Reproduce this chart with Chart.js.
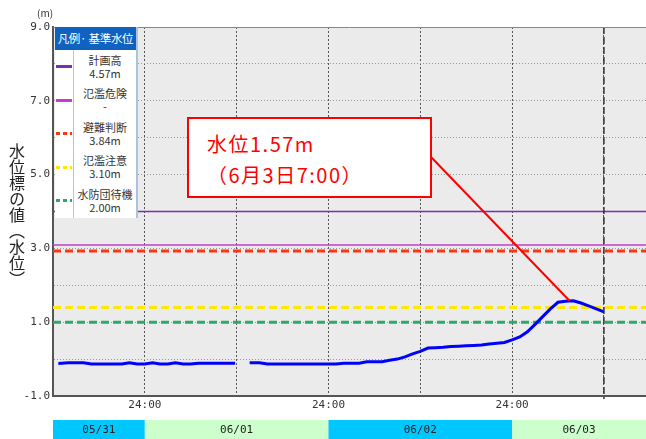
<!DOCTYPE html>
<html lang="ja">
<head>
<meta charset="utf-8">
<script src="https://cdn.jsdelivr.net/npm/chart.js@4.4.1/dist/chart.umd.min.js"></script>
<style>
  html, body { margin: 0; padding: 0; background: #fff; }
  #wrap { position: relative; width: 646px; height: 439px; overflow: hidden;
          font-family: "Noto Sans CJK JP", "Noto Sans", sans-serif; }
  #chart { position: absolute; left: 0; top: 0; }
  #unit { position: absolute; left: 37px; top: 5px; font-size: 10px; color: #333; }
  #ytitle { position: absolute; left: 8px; top: 143px; writing-mode: vertical-rl;
            font-size: 16px; line-height: 18px; color: #222; }
  #legend { position: absolute; left: 55px; top: 27px; width: 81px; background: #fff;
            border-right: 2px solid #a9c4dc; }
  #legend .head { height: 23px; line-height: 23px; background: #0f62c0; color: #fff;
                  font-size: 11.5px; text-align: center; white-space: nowrap; letter-spacing: -0.3px; }
  #legend .row { display: flex; height: 33.5px; }
  #legend .sw { position: relative; width: 18px; border-right: 1px solid #c4c4c4; }
  #legend .sw i { position: absolute; left: 1px; right: 1px; top: 15px; height: 3px; }
  #legend .tx { flex: 1; display: flex; flex-direction: column; justify-content: center;
                text-align: center; font-size: 11px; line-height: 13px; color: #333; }
  #note { position: absolute; left: 187px; top: 117px; width: 245px; height: 81px;
          border: 2px solid #ff0000; background: #fff; color: #ff0000; box-sizing: border-box;
          font-size: 20px; letter-spacing: 1.5px; line-height: 31px; padding: 9px 0 0 18px; }
</style>
</head>
<body>
<div id="wrap">
  <canvas id="chart" width="646" height="439"></canvas>
  <div id="unit">(m)</div>
  <div id="ytitle">水位標の値（水位）</div>
  <div id="legend"></div>
  <div id="note"></div>
</div>
<script>
/* =========================================
   DATA (hours counted from 05/31 12:00)
========================================= */
const hours = [0.7, 2, 3, 4, 5, 6, 7, 8, 9, 10, 11, 12, 13, 14, 15, 16, 17, 18, 19, 20,
  21, 22, 23, 23.8, 24.5, 25.7, 26, 27, 28, 29, 30, 31, 32, 33, 34, 35, 36, 37, 38, 39,
  40, 41, 42, 43, 44, 45, 46, 47, 48, 49, 50, 51, 52, 53, 54, 55, 56, 57, 58, 59,
  60, 61, 62, 63, 64, 65, 66, 67, 68, 69, 70, 71, 72];
const levels = [-0.12, -0.10, -0.10, -0.10, -0.13, -0.13, -0.13, -0.13, -0.13, -0.10,
  -0.13, -0.13, -0.10, -0.13, -0.13, -0.10, -0.13, -0.13, -0.11, -0.11,
  -0.11, -0.11, -0.11, -0.11, null, -0.10, -0.10, -0.10, -0.13, -0.13, -0.13, -0.13,
  -0.13, -0.13, -0.13, -0.13, -0.13, -0.13, -0.11, -0.11,
  -0.11, -0.07, -0.07, -0.07, -0.03, 0.00, 0.06, 0.14, 0.21, 0.30, 0.31, 0.32, 0.34,
  0.35, 0.36, 0.37, 0.38, 0.41, 0.43, 0.45,
  0.52, 0.60, 0.74, 0.94, 1.15, 1.36, 1.54, 1.57, 1.58, 1.52, 1.44, 1.36, 1.28];

// reference water levels: name, displayed value, position on the gauge axis
const thresholdNames = ["計画高", "氾濫危険", "避難判断", "氾濫注意", "水防団待機"];
const thresholdTexts = ["4.57m", "-", "3.84m", "3.10m", "2.00m"];
const thresholdLevels = [4.0, 3.09, 2.93, 1.40, 1.00];

const gridHours = [12, 24, 36, 48, 60, 72];
const midnightHours = [12, 36, 60];
const dayLabels = ["05/31", "06/01", "06/02", "06/03"];
const dayStartHours = [0, 12, 36, 60];
const dayEndHours = [12, 36, 60, 84];
const nowHour = 72;
const peakHour = 67.5;
const peakLevel = 1.58;
const noteLines = ["水位1.57m", "（6月3日7:00）"];

const X_MIN = 0, X_MAX = 77.5;

/* =========================================
   STYLES
========================================= */
const thresholdStyles = [
  { color: "#7a2fae", width: 1.5, dash: [] },
  { color: "#c040c8", width: 1.5, dash: [] },
  { color: "#ff3311", width: 3, dash: [8, 4] },
  { color: "#ffe800", width: 3, dash: [8, 4] },
  { color: "#2fa86a", width: 3, dash: [8, 4] }
];
const dayColors = ["#00c8ff", "#ccffcc", "#00c8ff", "#ccffcc"];

/* =========================================
   HTML LEGEND + NOTE
========================================= */
let html = '<div class="head">凡例· 基準水位</div>';
thresholdNames.forEach((name, i) => {
  const st = thresholdStyles[i];
  const bg = st.dash.length
    ? `repeating-linear-gradient(90deg, ${st.color} 0 4px, transparent 4px 7px)`
    : st.color;
  html += `<div class="row"><div class="sw"><i style="background:${bg}"></i></div>
    <div class="tx"><span>${name}</span><span>${thresholdTexts[i]}</span></div></div>`;
});
document.getElementById("legend").innerHTML = html;
document.getElementById("note").innerHTML = noteLines.join("<br>");

/* =========================================
   PLUGINS
========================================= */
const plotBg = {
  id: "plotBg",
  beforeDraw(chart) {
    const { ctx, chartArea: a } = chart;
    ctx.save();
    ctx.fillStyle = "#ebebeb";
    ctx.fillRect(a.left, a.top, a.right - a.left, a.bottom - a.top);
    ctx.restore();
  }
};

const overlay = {
  id: "overlay",
  afterDatasetsDraw(chart) {
    const { ctx, chartArea: a, scales: { x, y } } = chart;
    // current time line
    const nx = x.getPixelForValue(nowHour);
    ctx.save();
    ctx.strokeStyle = "#333";
    ctx.lineWidth = 1.5;
    ctx.setLineDash([7, 3]);
    ctx.beginPath();
    ctx.moveTo(nx, a.top);
    ctx.lineTo(nx, a.bottom + 3);
    ctx.stroke();
    // note connector
    ctx.setLineDash([]);
    ctx.strokeStyle = "#ff0000";
    ctx.lineWidth = 2;
    ctx.beginPath();
    ctx.moveTo(431, 157);
    ctx.lineTo(x.getPixelForValue(peakHour), y.getPixelForValue(peakLevel));
    ctx.stroke();
    // top edge
    ctx.strokeStyle = "#888";
    ctx.lineWidth = 1;
    ctx.beginPath();
    ctx.moveTo(a.left, a.top + 0.5);
    ctx.lineTo(a.right, a.top + 0.5);
    ctx.stroke();
    ctx.restore();
  },
  afterDraw(chart) {
    const { ctx, chartArea: a, scales: { x } } = chart;
    ctx.save();
    ctx.font = "11px 'DejaVu Sans Mono'";
    ctx.textAlign = "center";
    ctx.textBaseline = "middle";
    dayLabels.forEach((label, i) => {
      const l = Math.max(a.left, x.getPixelForValue(dayStartHours[i]));
      const r = Math.min(a.right, x.getPixelForValue(dayEndHours[i]));
      ctx.fillStyle = dayColors[i];
      ctx.fillRect(l, 420, r - l, 19);
      ctx.fillStyle = "#222";
      ctx.fillText(label, (l + r) / 2, 430);
    });
    ctx.restore();
  }
};

/* =========================================
   CHART
========================================= */
const datasets = [{
  data: hours.map((h, i) => ({ x: h, y: levels[i] })),
  borderColor: "#0000ff",
  borderWidth: 3,
  pointRadius: 0,
  spanGaps: false
}];
thresholdLevels.forEach((lv, i) => {
  const st = thresholdStyles[i];
  datasets.push({
    data: [{ x: X_MIN, y: lv }, { x: X_MAX, y: lv }],
    borderColor: st.color,
    borderWidth: st.width,
    borderDash: st.dash,
    pointRadius: 0
  });
});

new Chart(document.getElementById("chart"), {
  type: "line",
  data: { datasets },
  options: {
    responsive: false,
    animation: false,
    layout: { padding: { top: 27, left: 0, right: 0, bottom: 0 } },
    plugins: { legend: { display: false }, tooltip: { enabled: false } },
    scales: {
      x: {
        type: "linear",
        min: X_MIN,
        max: X_MAX,
        afterBuildTicks: s => { s.ticks = gridHours.map(v => ({ value: v })); },
        afterFit: s => { s.height = 43; },
        ticks: {
          autoSkip: false,
          maxRotation: 0,
          padding: 3,
          color: "#333",
          font: { family: "DejaVu Sans Mono", size: 11 },
          callback: v => (midnightHours.includes(v) ? "24:00" : "")
        },
        grid: { color: "#555", lineWidth: 1, drawTicks: false },
        border: { display: true, color: "#555", width: 2, dash: [2, 2] }
      },
      y: {
        min: -1,
        max: 9,
        afterFit: s => { s.width = 53; },
        ticks: {
          stepSize: 1,
          padding: 3,
          color: "#333",
          font: { family: "DejaVu Sans Mono", size: 11 },
          callback: v => (Math.abs(v % 2) === 1 ? v.toFixed(1) : "")
        },
        grid: { color: "#999", lineWidth: 1, drawTicks: false },
        border: { display: true, color: "#555", width: 2, dash: [1, 2] }
      }
    }
  },
  plugins: [plotBg, overlay]
});
</script>
</body>
</html>
